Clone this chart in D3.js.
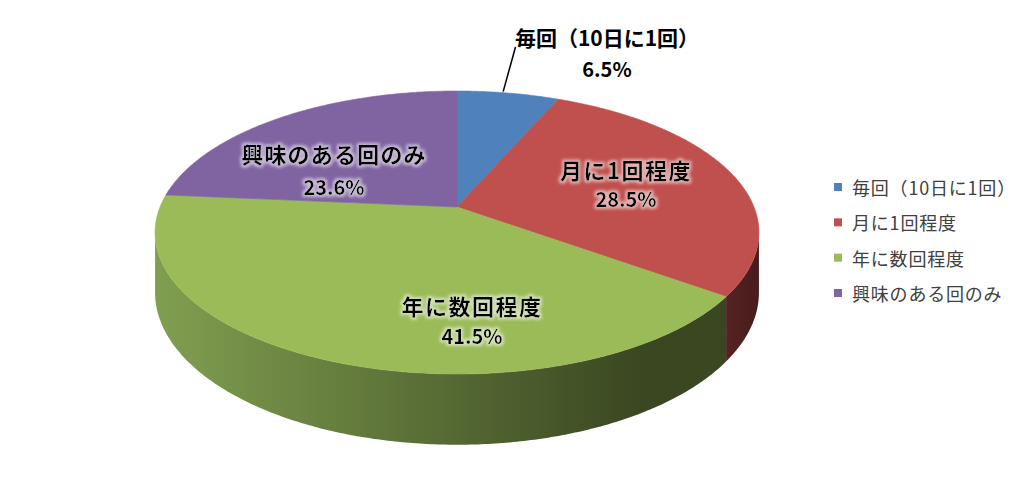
<!DOCTYPE html>
<html><head><meta charset="utf-8">
<script src="https://cdn.jsdelivr.net/npm/d3@7/dist/d3.min.js"></script>
<style>
body{margin:0;background:#fff;}
svg{display:block;font-family:"Noto Sans CJK JP","Noto Sans",sans-serif;}
</style></head>
<body>
<svg id="chart" width="1024" height="481"></svg>
<script>
// ---- data ----
const categories = ["毎回（10日に1回）", "月に1回程度", "年に数回程度", "興味のある回のみ"];
const values = [6.5, 28.5, 41.5, 23.6];
const valueLabels = ["6.5%", "28.5%", "41.5%", "23.6%"];

// ---- styles ----
const topColors = ["#4F81BD", "#C0504D", "#9BBB59", "#8064A2"];
const sideLight = ["#3B5E8C", "#552323", "#819F50", "#5F4A7A"];
const sideDark  = ["#2A4263", "#4A1C1C", "#3A4721", "#46365A"];
// label layout: [x, line1 y, line2 y, font size, letter spacing]
const labelPos = [[607, 37, 68, 21, 0], [626, 169, 198, 22, 1.5], [472, 305, 335, 22, 1.5], [334, 153, 186, 22, 1.2]];

const svg = d3.select("#chart");
const X0 = 457, Y0 = 207, A = 297, B = 136.9, K = 0.1802, H = 58;

function proj(theta, r, z) {
  const u = r * Math.sin(theta), v = r * Math.cos(theta);
  const w = 1 + K * v;
  return [X0 + A * u / w, Y0 - B * v / w + H * z / w];
}
function arcPts(a0, a1, z) {
  const n = Math.max(2, Math.ceil(Math.abs(a1 - a0) / 0.01));
  const s = d3.scaleLinear().domain([0, n]).range([a0, a1]);
  return d3.range(n + 1).map(i => proj(s(i), 1, z));
}

const pie = d3.pie().sort(null).value(d => d)(values);
const line = d3.line();
const defs = svg.append("defs");

// side walls
const thMin = Math.acos(-K), thMax = 2 * Math.PI - thMin;
pie.forEach((p, i) => {
  const a0 = Math.max(p.startAngle, thMin), a1 = Math.min(p.endAngle, thMax);
  if (a1 <= a0) return;
  const pts = arcPts(a0, a1, 0).concat(arcPts(a1, a0, 1));
  const xs = pts.map(d => d[0]);
  const g = defs.append("linearGradient").attr("id", "side" + i)
    .attr("gradientUnits", "userSpaceOnUse")
    .attr("x1", d3.min(xs)).attr("x2", d3.max(xs)).attr("y1", 0).attr("y2", 0);
  g.append("stop").attr("offset", 0).attr("stop-color", sideLight[i]);
  g.append("stop").attr("offset", 0.85).attr("stop-color", sideDark[i]);
  g.append("stop").attr("offset", 1).attr("stop-color", sideDark[i]);
  svg.append("path").attr("d", line(pts) + "Z").attr("fill", "url(#side" + i + ")");
});

// top faces
pie.forEach((p, i) => {
  const pts = [proj(0, 0, 0)].concat(arcPts(p.startAngle, p.endAngle, 0));
  svg.append("path").attr("d", line(pts) + "Z").attr("fill", topColors[i])
    .attr("stroke", topColors[i]).attr("stroke-width", 0.6);
});

// glow filter
const f = defs.append("filter").attr("id", "glow").attr("x", "-20%").attr("y", "-40%").attr("width", "140%").attr("height", "180%");
f.append("feMorphology").attr("in", "SourceAlpha").attr("operator", "dilate").attr("radius", 1.5).attr("result", "d");
f.append("feGaussianBlur").attr("in", "d").attr("stdDeviation", 1.5).attr("result", "b");
f.append("feFlood").attr("flood-color", "#ffffff").attr("flood-opacity", 0.55);
f.append("feComposite").attr("in2", "b").attr("operator", "in").attr("result", "g");
const fm = f.append("feMerge");
fm.append("feMergeNode").attr("in", "g");
fm.append("feMergeNode").attr("in", "SourceGraphic");

// leader line for first slice
const lp = proj((pie[0].startAngle + pie[0].endAngle) / 2 - 0.02, 1, 0);
svg.append("line").attr("x1", 515.5).attr("y1", 47).attr("x2", lp[0]).attr("y2", lp[1] - 1)
  .attr("stroke", "#000").attr("stroke-width", 1.5);

// data labels
categories.forEach((c, i) => {
  const [x, y1, y2, fs, ls] = labelPos[i];
  const g = svg.append("g").attr("filter", i === 0 ? null : "url(#glow)")
    .attr("font-weight", "bold").attr("fill", "#000").attr("text-anchor", "middle");
  g.append("text").attr("x", x).attr("y", y1).attr("dominant-baseline", "central")
    .attr("font-size", fs).attr("letter-spacing", ls).text(c);
  g.append("text").attr("x", x).attr("y", y2).attr("dominant-baseline", "central")
    .attr("font-size", 20).text(valueLabels[i]);
});

// legend
const leg = svg.append("g").attr("transform", "translate(834,187)");
const ly = d3.scalePoint().domain(categories).range([0, 106]);
categories.forEach((c, i) => {
  leg.append("rect").attr("x", 0).attr("y", ly(c) - 4).attr("width", 8).attr("height", 8).attr("fill", topColors[i]);
  leg.append("text").attr("x", 18).attr("y", ly(c)).attr("dominant-baseline", "central")
    .attr("font-size", 18).attr("letter-spacing", 0.8).attr("fill", "#404040").text(c);
});
</script>
</body></html>
